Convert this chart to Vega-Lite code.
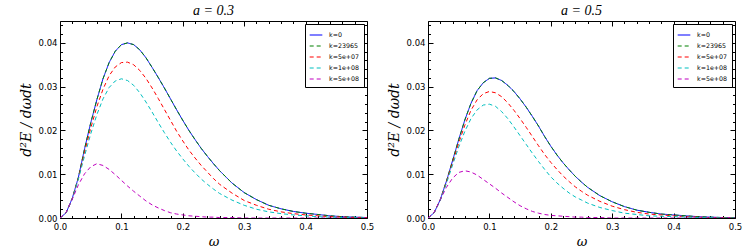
{
  "$schema": "https://vega.github.io/schema/vega-lite/v6.json",
  "autosize": {"type": "pad"},
  "padding": {"left": 18, "top": 3, "right": 15, "bottom": 2},
  "background": "white",
  "bounds": "flush",
  "spacing": 61,
  "config": {
    "view": {"stroke": "#000", "strokeWidth": 1},
    "axis": {"domain": false, "grid": false, "tickColor": "#000", "tickWidth": 1, "labelColor": "#000", "labelFont": "DejaVu Sans", "labelFontSize": 8.5, "titleFont": "DejaVu Serif", "titleFontStyle": "italic", "titleFontWeight": "normal", "titleColor": "#000", "labelFlush": false, "labelOverlap": false},
    "legend": {"orient": "top-right", "offset": 3, "symbolType": "stroke", "symbolSize": 160, "symbolStrokeWidth": 1.2, "labelFont": "DejaVu Sans", "labelFontSize": 6.3, "labelColor": "#000", "labelOffset": 6, "padding": 4, "rowPadding": -2, "strokeColor": "#000", "fillColor": "#fff", "cornerRadius": 0},
    "title": {"font": "Liberation Serif", "fontStyle": "italic", "fontWeight": "normal", "fontSize": 14, "offset": 3, "anchor": "middle", "color": "#000"}
  },
  "resolve": {"scale": {"color": "independent", "strokeDash": "independent"}, "legend": {"color": "independent", "strokeDash": "independent"}},
  "datasets": {
    "a03": [
      {"k":"k=0","w":0,"y":0},{"k":"k=0","w":0.01,"y":0.0012},{"k":"k=0","w":0.02,"y":0.0045},{"k":"k=0","w":0.03,"y":0.0093},{"k":"k=0","w":0.04,"y":0.0158},{"k":"k=0","w":0.05,"y":0.0217},{"k":"k=0","w":0.06,"y":0.027},{"k":"k=0","w":0.07,"y":0.0318},{"k":"k=0","w":0.08,"y":0.0355},{"k":"k=0","w":0.09,"y":0.0381},{"k":"k=0","w":0.1,"y":0.0396},{"k":"k=0","w":0.11,"y":0.04},{"k":"k=0","w":0.12,"y":0.0396},{"k":"k=0","w":0.13,"y":0.0384},{"k":"k=0","w":0.14,"y":0.0366},{"k":"k=0","w":0.15,"y":0.0344},{"k":"k=0","w":0.16,"y":0.0321},{"k":"k=0","w":0.17,"y":0.0297},{"k":"k=0","w":0.18,"y":0.0272},{"k":"k=0","w":0.19,"y":0.0247},{"k":"k=0","w":0.2,"y":0.0223},{"k":"k=0","w":0.21,"y":0.02},{"k":"k=0","w":0.22,"y":0.0179},{"k":"k=0","w":0.23,"y":0.0159},{"k":"k=0","w":0.24,"y":0.0141},{"k":"k=0","w":0.25,"y":0.0124},{"k":"k=0","w":0.26,"y":0.0108},{"k":"k=0","w":0.28,"y":0.008},{"k":"k=0","w":0.3,"y":0.0058},{"k":"k=0","w":0.32,"y":0.0042},{"k":"k=0","w":0.34,"y":0.0029},{"k":"k=0","w":0.36,"y":0.0021},{"k":"k=0","w":0.38,"y":0.0015},{"k":"k=0","w":0.4,"y":0.0011},{"k":"k=0","w":0.42,"y":0.0008},{"k":"k=0","w":0.44,"y":0.0005},{"k":"k=0","w":0.46,"y":0.0003},{"k":"k=0","w":0.48,"y":0.0002},{"k":"k=0","w":0.5,"y":0.0001},
      {"k":"k=23965","w":0,"y":0},{"k":"k=23965","w":0.01,"y":0.0012},{"k":"k=23965","w":0.02,"y":0.0045},{"k":"k=23965","w":0.03,"y":0.0093},{"k":"k=23965","w":0.04,"y":0.0158},{"k":"k=23965","w":0.05,"y":0.0217},{"k":"k=23965","w":0.06,"y":0.027},{"k":"k=23965","w":0.07,"y":0.0318},{"k":"k=23965","w":0.08,"y":0.0355},{"k":"k=23965","w":0.09,"y":0.0381},{"k":"k=23965","w":0.1,"y":0.0396},{"k":"k=23965","w":0.11,"y":0.04},{"k":"k=23965","w":0.12,"y":0.0396},{"k":"k=23965","w":0.13,"y":0.0384},{"k":"k=23965","w":0.14,"y":0.0366},{"k":"k=23965","w":0.15,"y":0.0344},{"k":"k=23965","w":0.16,"y":0.0321},{"k":"k=23965","w":0.17,"y":0.0297},{"k":"k=23965","w":0.18,"y":0.0272},{"k":"k=23965","w":0.19,"y":0.0247},{"k":"k=23965","w":0.2,"y":0.0223},{"k":"k=23965","w":0.21,"y":0.02},{"k":"k=23965","w":0.22,"y":0.0179},{"k":"k=23965","w":0.23,"y":0.0159},{"k":"k=23965","w":0.24,"y":0.0141},{"k":"k=23965","w":0.25,"y":0.0124},{"k":"k=23965","w":0.26,"y":0.0108},{"k":"k=23965","w":0.28,"y":0.008},{"k":"k=23965","w":0.3,"y":0.0058},{"k":"k=23965","w":0.32,"y":0.0042},{"k":"k=23965","w":0.34,"y":0.0029},{"k":"k=23965","w":0.36,"y":0.0021},{"k":"k=23965","w":0.38,"y":0.0015},{"k":"k=23965","w":0.4,"y":0.0011},{"k":"k=23965","w":0.42,"y":0.0008},{"k":"k=23965","w":0.44,"y":0.0005},{"k":"k=23965","w":0.46,"y":0.0003},{"k":"k=23965","w":0.48,"y":0.0002},{"k":"k=23965","w":0.5,"y":0.0001},
      {"k":"k=5e+07","w":0,"y":0},{"k":"k=5e+07","w":0.01,"y":0.0012},{"k":"k=5e+07","w":0.02,"y":0.0044},{"k":"k=5e+07","w":0.03,"y":0.0091},{"k":"k=5e+07","w":0.04,"y":0.015},{"k":"k=5e+07","w":0.05,"y":0.0205},{"k":"k=5e+07","w":0.06,"y":0.0254},{"k":"k=5e+07","w":0.07,"y":0.0294},{"k":"k=5e+07","w":0.08,"y":0.0325},{"k":"k=5e+07","w":0.09,"y":0.0345},{"k":"k=5e+07","w":0.1,"y":0.0355},{"k":"k=5e+07","w":0.11,"y":0.0356},{"k":"k=5e+07","w":0.12,"y":0.035},{"k":"k=5e+07","w":0.13,"y":0.0337},{"k":"k=5e+07","w":0.14,"y":0.0319},{"k":"k=5e+07","w":0.15,"y":0.0297},{"k":"k=5e+07","w":0.16,"y":0.0273},{"k":"k=5e+07","w":0.17,"y":0.0248},{"k":"k=5e+07","w":0.18,"y":0.0223},{"k":"k=5e+07","w":0.19,"y":0.0198},{"k":"k=5e+07","w":0.2,"y":0.0176},{"k":"k=5e+07","w":0.21,"y":0.0155},{"k":"k=5e+07","w":0.22,"y":0.0137},{"k":"k=5e+07","w":0.23,"y":0.012},{"k":"k=5e+07","w":0.24,"y":0.0105},{"k":"k=5e+07","w":0.25,"y":0.009},{"k":"k=5e+07","w":0.26,"y":0.0077},{"k":"k=5e+07","w":0.28,"y":0.0057},{"k":"k=5e+07","w":0.3,"y":0.004},{"k":"k=5e+07","w":0.32,"y":0.0029},{"k":"k=5e+07","w":0.34,"y":0.002},{"k":"k=5e+07","w":0.36,"y":0.0014},{"k":"k=5e+07","w":0.38,"y":0.001},{"k":"k=5e+07","w":0.4,"y":0.0007},{"k":"k=5e+07","w":0.42,"y":0.0005},{"k":"k=5e+07","w":0.44,"y":0.0003},{"k":"k=5e+07","w":0.46,"y":0.0002},{"k":"k=5e+07","w":0.48,"y":0.0001},{"k":"k=5e+07","w":0.5,"y":0.0001},
      {"k":"k=1e+08","w":0,"y":0},{"k":"k=1e+08","w":0.01,"y":0.0012},{"k":"k=1e+08","w":0.02,"y":0.0043},{"k":"k=1e+08","w":0.03,"y":0.0089},{"k":"k=1e+08","w":0.04,"y":0.0142},{"k":"k=1e+08","w":0.05,"y":0.0192},{"k":"k=1e+08","w":0.06,"y":0.0236},{"k":"k=1e+08","w":0.07,"y":0.0272},{"k":"k=1e+08","w":0.08,"y":0.0298},{"k":"k=1e+08","w":0.09,"y":0.0313},{"k":"k=1e+08","w":0.1,"y":0.0318},{"k":"k=1e+08","w":0.11,"y":0.0314},{"k":"k=1e+08","w":0.12,"y":0.0303},{"k":"k=1e+08","w":0.13,"y":0.0286},{"k":"k=1e+08","w":0.14,"y":0.0265},{"k":"k=1e+08","w":0.15,"y":0.0242},{"k":"k=1e+08","w":0.16,"y":0.0218},{"k":"k=1e+08","w":0.17,"y":0.0195},{"k":"k=1e+08","w":0.18,"y":0.0173},{"k":"k=1e+08","w":0.19,"y":0.0153},{"k":"k=1e+08","w":0.2,"y":0.0135},{"k":"k=1e+08","w":0.21,"y":0.0118},{"k":"k=1e+08","w":0.22,"y":0.0103},{"k":"k=1e+08","w":0.23,"y":0.0089},{"k":"k=1e+08","w":0.24,"y":0.0077},{"k":"k=1e+08","w":0.25,"y":0.0066},{"k":"k=1e+08","w":0.26,"y":0.0056},{"k":"k=1e+08","w":0.28,"y":0.0041},{"k":"k=1e+08","w":0.3,"y":0.0029},{"k":"k=1e+08","w":0.32,"y":0.002},{"k":"k=1e+08","w":0.34,"y":0.0014},{"k":"k=1e+08","w":0.36,"y":0.001},{"k":"k=1e+08","w":0.38,"y":0.0007},{"k":"k=1e+08","w":0.4,"y":0.0005},{"k":"k=1e+08","w":0.42,"y":0.0003},{"k":"k=1e+08","w":0.44,"y":0.0002},{"k":"k=1e+08","w":0.46,"y":0.0001},{"k":"k=1e+08","w":0.48,"y":0.0001},{"k":"k=1e+08","w":0.5,"y":0},
      {"k":"k=5e+08","w":0,"y":0},{"k":"k=5e+08","w":0.01,"y":0.0013},{"k":"k=5e+08","w":0.02,"y":0.0043},{"k":"k=5e+08","w":0.03,"y":0.0076},{"k":"k=5e+08","w":0.04,"y":0.0101},{"k":"k=5e+08","w":0.05,"y":0.0117},{"k":"k=5e+08","w":0.06,"y":0.0124},{"k":"k=5e+08","w":0.07,"y":0.012},{"k":"k=5e+08","w":0.08,"y":0.0111},{"k":"k=5e+08","w":0.09,"y":0.0099},{"k":"k=5e+08","w":0.1,"y":0.0086},{"k":"k=5e+08","w":0.11,"y":0.0073},{"k":"k=5e+08","w":0.12,"y":0.0061},{"k":"k=5e+08","w":0.13,"y":0.005},{"k":"k=5e+08","w":0.14,"y":0.0039},{"k":"k=5e+08","w":0.15,"y":0.003},{"k":"k=5e+08","w":0.16,"y":0.0023},{"k":"k=5e+08","w":0.17,"y":0.0017},{"k":"k=5e+08","w":0.18,"y":0.0012},{"k":"k=5e+08","w":0.19,"y":0.0009},{"k":"k=5e+08","w":0.2,"y":0.0007},{"k":"k=5e+08","w":0.21,"y":0.0005},{"k":"k=5e+08","w":0.22,"y":0.0004},{"k":"k=5e+08","w":0.23,"y":0.0003},{"k":"k=5e+08","w":0.24,"y":0.0002},{"k":"k=5e+08","w":0.25,"y":0.0002},{"k":"k=5e+08","w":0.26,"y":0.0001},{"k":"k=5e+08","w":0.28,"y":0.0001},{"k":"k=5e+08","w":0.3,"y":0},{"k":"k=5e+08","w":0.32,"y":0},{"k":"k=5e+08","w":0.34,"y":0},{"k":"k=5e+08","w":0.36,"y":0},{"k":"k=5e+08","w":0.38,"y":0},{"k":"k=5e+08","w":0.4,"y":0},{"k":"k=5e+08","w":0.42,"y":0},{"k":"k=5e+08","w":0.44,"y":0},{"k":"k=5e+08","w":0.46,"y":0},{"k":"k=5e+08","w":0.48,"y":0},{"k":"k=5e+08","w":0.5,"y":0}
    ],
    "a05": [
      {"k":"k=0","w":0,"y":0},{"k":"k=0","w":0.01,"y":0.0012},{"k":"k=0","w":0.02,"y":0.0042},{"k":"k=0","w":0.03,"y":0.0084},{"k":"k=0","w":0.04,"y":0.0131},{"k":"k=0","w":0.05,"y":0.0179},{"k":"k=0","w":0.06,"y":0.0224},{"k":"k=0","w":0.07,"y":0.0262},{"k":"k=0","w":0.08,"y":0.0291},{"k":"k=0","w":0.09,"y":0.0309},{"k":"k=0","w":0.1,"y":0.0319},{"k":"k=0","w":0.11,"y":0.032},{"k":"k=0","w":0.12,"y":0.0314},{"k":"k=0","w":0.13,"y":0.0303},{"k":"k=0","w":0.14,"y":0.0289},{"k":"k=0","w":0.15,"y":0.0272},{"k":"k=0","w":0.16,"y":0.0253},{"k":"k=0","w":0.17,"y":0.0232},{"k":"k=0","w":0.18,"y":0.021},{"k":"k=0","w":0.19,"y":0.0186},{"k":"k=0","w":0.2,"y":0.0164},{"k":"k=0","w":0.21,"y":0.0144},{"k":"k=0","w":0.22,"y":0.0126},{"k":"k=0","w":0.23,"y":0.011},{"k":"k=0","w":0.24,"y":0.0095},{"k":"k=0","w":0.25,"y":0.0082},{"k":"k=0","w":0.26,"y":0.007},{"k":"k=0","w":0.28,"y":0.0051},{"k":"k=0","w":0.3,"y":0.0037},{"k":"k=0","w":0.32,"y":0.0026},{"k":"k=0","w":0.34,"y":0.0018},{"k":"k=0","w":0.36,"y":0.0013},{"k":"k=0","w":0.38,"y":0.0009},{"k":"k=0","w":0.4,"y":0.0007},{"k":"k=0","w":0.42,"y":0.0005},{"k":"k=0","w":0.44,"y":0.0003},{"k":"k=0","w":0.46,"y":0.0002},{"k":"k=0","w":0.48,"y":0.0001},{"k":"k=0","w":0.5,"y":0.0001},
      {"k":"k=23965","w":0,"y":0},{"k":"k=23965","w":0.01,"y":0.0012},{"k":"k=23965","w":0.02,"y":0.0042},{"k":"k=23965","w":0.03,"y":0.0084},{"k":"k=23965","w":0.04,"y":0.0131},{"k":"k=23965","w":0.05,"y":0.0179},{"k":"k=23965","w":0.06,"y":0.0224},{"k":"k=23965","w":0.07,"y":0.0262},{"k":"k=23965","w":0.08,"y":0.0291},{"k":"k=23965","w":0.09,"y":0.0309},{"k":"k=23965","w":0.1,"y":0.0319},{"k":"k=23965","w":0.11,"y":0.032},{"k":"k=23965","w":0.12,"y":0.0314},{"k":"k=23965","w":0.13,"y":0.0303},{"k":"k=23965","w":0.14,"y":0.0289},{"k":"k=23965","w":0.15,"y":0.0272},{"k":"k=23965","w":0.16,"y":0.0253},{"k":"k=23965","w":0.17,"y":0.0232},{"k":"k=23965","w":0.18,"y":0.021},{"k":"k=23965","w":0.19,"y":0.0186},{"k":"k=23965","w":0.2,"y":0.0164},{"k":"k=23965","w":0.21,"y":0.0144},{"k":"k=23965","w":0.22,"y":0.0126},{"k":"k=23965","w":0.23,"y":0.011},{"k":"k=23965","w":0.24,"y":0.0095},{"k":"k=23965","w":0.25,"y":0.0082},{"k":"k=23965","w":0.26,"y":0.007},{"k":"k=23965","w":0.28,"y":0.0051},{"k":"k=23965","w":0.3,"y":0.0037},{"k":"k=23965","w":0.32,"y":0.0026},{"k":"k=23965","w":0.34,"y":0.0018},{"k":"k=23965","w":0.36,"y":0.0013},{"k":"k=23965","w":0.38,"y":0.0009},{"k":"k=23965","w":0.4,"y":0.0007},{"k":"k=23965","w":0.42,"y":0.0005},{"k":"k=23965","w":0.44,"y":0.0003},{"k":"k=23965","w":0.46,"y":0.0002},{"k":"k=23965","w":0.48,"y":0.0001},{"k":"k=23965","w":0.5,"y":0.0001},
      {"k":"k=5e+07","w":0,"y":0},{"k":"k=5e+07","w":0.01,"y":0.0012},{"k":"k=5e+07","w":0.02,"y":0.0041},{"k":"k=5e+07","w":0.03,"y":0.0082},{"k":"k=5e+07","w":0.04,"y":0.0126},{"k":"k=5e+07","w":0.05,"y":0.0171},{"k":"k=5e+07","w":0.06,"y":0.0212},{"k":"k=5e+07","w":0.07,"y":0.0246},{"k":"k=5e+07","w":0.08,"y":0.027},{"k":"k=5e+07","w":0.09,"y":0.0284},{"k":"k=5e+07","w":0.1,"y":0.0289},{"k":"k=5e+07","w":0.11,"y":0.0286},{"k":"k=5e+07","w":0.12,"y":0.0277},{"k":"k=5e+07","w":0.13,"y":0.0263},{"k":"k=5e+07","w":0.14,"y":0.0246},{"k":"k=5e+07","w":0.15,"y":0.0227},{"k":"k=5e+07","w":0.16,"y":0.0207},{"k":"k=5e+07","w":0.17,"y":0.0186},{"k":"k=5e+07","w":0.18,"y":0.0165},{"k":"k=5e+07","w":0.19,"y":0.0145},{"k":"k=5e+07","w":0.2,"y":0.0127},{"k":"k=5e+07","w":0.21,"y":0.0111},{"k":"k=5e+07","w":0.22,"y":0.0096},{"k":"k=5e+07","w":0.23,"y":0.0083},{"k":"k=5e+07","w":0.24,"y":0.0071},{"k":"k=5e+07","w":0.25,"y":0.0061},{"k":"k=5e+07","w":0.26,"y":0.0052},{"k":"k=5e+07","w":0.28,"y":0.0038},{"k":"k=5e+07","w":0.3,"y":0.0027},{"k":"k=5e+07","w":0.32,"y":0.0019},{"k":"k=5e+07","w":0.34,"y":0.0013},{"k":"k=5e+07","w":0.36,"y":0.0009},{"k":"k=5e+07","w":0.38,"y":0.0007},{"k":"k=5e+07","w":0.4,"y":0.0005},{"k":"k=5e+07","w":0.42,"y":0.0003},{"k":"k=5e+07","w":0.44,"y":0.0002},{"k":"k=5e+07","w":0.46,"y":0.0001},{"k":"k=5e+07","w":0.48,"y":0.0001},{"k":"k=5e+07","w":0.5,"y":0},
      {"k":"k=1e+08","w":0,"y":0},{"k":"k=1e+08","w":0.01,"y":0.0012},{"k":"k=1e+08","w":0.02,"y":0.004},{"k":"k=1e+08","w":0.03,"y":0.0079},{"k":"k=1e+08","w":0.04,"y":0.0121},{"k":"k=1e+08","w":0.05,"y":0.0162},{"k":"k=1e+08","w":0.06,"y":0.0198},{"k":"k=1e+08","w":0.07,"y":0.0227},{"k":"k=1e+08","w":0.08,"y":0.0247},{"k":"k=1e+08","w":0.09,"y":0.0258},{"k":"k=1e+08","w":0.1,"y":0.026},{"k":"k=1e+08","w":0.11,"y":0.0255},{"k":"k=1e+08","w":0.12,"y":0.0243},{"k":"k=1e+08","w":0.13,"y":0.0227},{"k":"k=1e+08","w":0.14,"y":0.0208},{"k":"k=1e+08","w":0.15,"y":0.0188},{"k":"k=1e+08","w":0.16,"y":0.0168},{"k":"k=1e+08","w":0.17,"y":0.0148},{"k":"k=1e+08","w":0.18,"y":0.0129},{"k":"k=1e+08","w":0.19,"y":0.0111},{"k":"k=1e+08","w":0.2,"y":0.0094},{"k":"k=1e+08","w":0.21,"y":0.008},{"k":"k=1e+08","w":0.22,"y":0.0068},{"k":"k=1e+08","w":0.23,"y":0.0057},{"k":"k=1e+08","w":0.24,"y":0.0048},{"k":"k=1e+08","w":0.25,"y":0.0041},{"k":"k=1e+08","w":0.26,"y":0.0034},{"k":"k=1e+08","w":0.28,"y":0.0024},{"k":"k=1e+08","w":0.3,"y":0.0017},{"k":"k=1e+08","w":0.32,"y":0.0011},{"k":"k=1e+08","w":0.34,"y":0.0008},{"k":"k=1e+08","w":0.36,"y":0.0005},{"k":"k=1e+08","w":0.38,"y":0.0004},{"k":"k=1e+08","w":0.4,"y":0.0003},{"k":"k=1e+08","w":0.42,"y":0.0002},{"k":"k=1e+08","w":0.44,"y":0.0001},{"k":"k=1e+08","w":0.46,"y":0.0001},{"k":"k=1e+08","w":0.48,"y":0},{"k":"k=1e+08","w":0.5,"y":0},
      {"k":"k=5e+08","w":0,"y":0},{"k":"k=5e+08","w":0.01,"y":0.0013},{"k":"k=5e+08","w":0.02,"y":0.0042},{"k":"k=5e+08","w":0.03,"y":0.007},{"k":"k=5e+08","w":0.04,"y":0.0091},{"k":"k=5e+08","w":0.05,"y":0.0104},{"k":"k=5e+08","w":0.06,"y":0.0108},{"k":"k=5e+08","w":0.07,"y":0.0105},{"k":"k=5e+08","w":0.08,"y":0.0098},{"k":"k=5e+08","w":0.09,"y":0.0088},{"k":"k=5e+08","w":0.1,"y":0.0078},{"k":"k=5e+08","w":0.11,"y":0.0068},{"k":"k=5e+08","w":0.12,"y":0.0057},{"k":"k=5e+08","w":0.13,"y":0.0047},{"k":"k=5e+08","w":0.14,"y":0.0037},{"k":"k=5e+08","w":0.15,"y":0.0028},{"k":"k=5e+08","w":0.16,"y":0.0021},{"k":"k=5e+08","w":0.17,"y":0.0015},{"k":"k=5e+08","w":0.18,"y":0.0011},{"k":"k=5e+08","w":0.19,"y":0.0008},{"k":"k=5e+08","w":0.2,"y":0.0006},{"k":"k=5e+08","w":0.21,"y":0.0005},{"k":"k=5e+08","w":0.22,"y":0.0004},{"k":"k=5e+08","w":0.23,"y":0.0003},{"k":"k=5e+08","w":0.24,"y":0.0002},{"k":"k=5e+08","w":0.25,"y":0.0002},{"k":"k=5e+08","w":0.26,"y":0.0001},{"k":"k=5e+08","w":0.28,"y":0.0001},{"k":"k=5e+08","w":0.3,"y":0},{"k":"k=5e+08","w":0.32,"y":0},{"k":"k=5e+08","w":0.34,"y":0},{"k":"k=5e+08","w":0.36,"y":0},{"k":"k=5e+08","w":0.38,"y":0},{"k":"k=5e+08","w":0.4,"y":0},{"k":"k=5e+08","w":0.42,"y":0},{"k":"k=5e+08","w":0.44,"y":0},{"k":"k=5e+08","w":0.46,"y":0},{"k":"k=5e+08","w":0.48,"y":0},{"k":"k=5e+08","w":0.5,"y":0}
    ]
  },
  "hconcat": [
    {
      "width": 307, "height": 197,
      "title": {"text": "a = 0.3"},
      "data": {"name": "a03"},
      "resolve": {"axis": {"x": "independent", "y": "independent"}},
      "layer": [
        {
          "mark": {"type": "line", "strokeWidth": 1, "clip": true},
          "encoding": {
            "x": {"field": "w", "type": "quantitative", "scale": {"domain": [0, 0.5], "nice": false, "zero": false}, "axis": {"orient": "bottom", "title": "ω", "values": [0, 0.1, 0.2, 0.3, 0.4, 0.5], "format": ".1f", "tickSize": -5, "labelPadding": 9, "titlePadding": 5, "titleFontSize": 13}},
            "y": {"field": "y", "type": "quantitative", "scale": {"domain": [0, 0.045], "nice": false}, "axis": {"orient": "left", "title": "d²E / dωdt", "values": [0, 0.01, 0.02, 0.03, 0.04], "format": ".2f", "tickSize": -5, "labelPadding": 8, "titlePadding": 5, "titleFontSize": 14}},
            "color": {"field": "k", "type": "nominal", "scale": {"domain": ["k=0", "k=23965", "k=5e+07", "k=1e+08", "k=5e+08"], "range": ["#0000ff", "#008000", "#ff0000", "#00bfbf", "#bf00bf"]}, "legend": {"title": null}},
            "strokeDash": {"field": "k", "type": "nominal", "scale": {"domain": ["k=0", "k=23965", "k=5e+07", "k=1e+08", "k=5e+08"], "range": [[1, 0], [4, 3], [4, 3], [4, 3], [4, 3]]}, "legend": {"title": null}}
          }
        },
        {
          "mark": {"type": "line", "opacity": 0},
          "encoding": {
            "x": {"field": "w", "type": "quantitative", "axis": {"orient": "bottom", "title": null, "labels": false, "values": [0.02,0.04,0.06,0.08,0.12,0.14,0.16,0.18,0.22,0.24,0.26,0.28,0.32,0.34,0.36,0.38,0.42,0.44,0.46,0.48], "tickSize": -2.5}},
            "y": {"field": "y", "type": "quantitative", "axis": {"orient": "left", "title": null, "labels": false, "values": [0.002,0.004,0.006,0.008,0.012,0.014,0.016,0.018,0.022,0.024,0.026,0.028,0.032,0.034,0.036,0.038,0.042,0.044], "tickSize": -2.5}}
          }
        },
        {
          "mark": {"type": "line", "opacity": 0},
          "encoding": {
            "x": {"field": "w", "type": "quantitative", "axis": {"orient": "top", "title": null, "labels": false, "values": [0, 0.1, 0.2, 0.3, 0.4, 0.5], "tickSize": -5}},
            "y": {"field": "y", "type": "quantitative", "axis": {"orient": "right", "title": null, "labels": false, "values": [0, 0.01, 0.02, 0.03, 0.04], "tickSize": -5}}
          }
        },
        {
          "mark": {"type": "line", "opacity": 0},
          "encoding": {
            "x": {"field": "w", "type": "quantitative", "axis": {"orient": "top", "title": null, "labels": false, "values": [0.02,0.04,0.06,0.08,0.12,0.14,0.16,0.18,0.22,0.24,0.26,0.28,0.32,0.34,0.36,0.38,0.42,0.44,0.46,0.48], "tickSize": -2.5}},
            "y": {"field": "y", "type": "quantitative", "axis": {"orient": "right", "title": null, "labels": false, "values": [0.002,0.004,0.006,0.008,0.012,0.014,0.016,0.018,0.022,0.024,0.026,0.028,0.032,0.034,0.036,0.038,0.042,0.044], "tickSize": -2.5}}
          }
        }
      ]
    },
    {
      "width": 307, "height": 197,
      "title": {"text": "a = 0.5"},
      "data": {"name": "a05"},
      "resolve": {"axis": {"x": "independent", "y": "independent"}},
      "layer": [
        {
          "mark": {"type": "line", "strokeWidth": 1, "clip": true},
          "encoding": {
            "x": {"field": "w", "type": "quantitative", "scale": {"domain": [0, 0.5], "nice": false, "zero": false}, "axis": {"orient": "bottom", "title": "ω", "values": [0, 0.1, 0.2, 0.3, 0.4, 0.5], "format": ".1f", "tickSize": -5, "labelPadding": 9, "titlePadding": 5, "titleFontSize": 13}},
            "y": {"field": "y", "type": "quantitative", "scale": {"domain": [0, 0.045], "nice": false}, "axis": {"orient": "left", "title": "d²E / dωdt", "values": [0, 0.01, 0.02, 0.03, 0.04], "format": ".2f", "tickSize": -5, "labelPadding": 8, "titlePadding": 5, "titleFontSize": 14}},
            "color": {"field": "k", "type": "nominal", "scale": {"domain": ["k=0", "k=23965", "k=5e+07", "k=1e+08", "k=5e+08"], "range": ["#0000ff", "#008000", "#ff0000", "#00bfbf", "#bf00bf"]}, "legend": {"title": null}},
            "strokeDash": {"field": "k", "type": "nominal", "scale": {"domain": ["k=0", "k=23965", "k=5e+07", "k=1e+08", "k=5e+08"], "range": [[1, 0], [4, 3], [4, 3], [4, 3], [4, 3]]}, "legend": {"title": null}}
          }
        },
        {
          "mark": {"type": "line", "opacity": 0},
          "encoding": {
            "x": {"field": "w", "type": "quantitative", "axis": {"orient": "bottom", "title": null, "labels": false, "values": [0.02,0.04,0.06,0.08,0.12,0.14,0.16,0.18,0.22,0.24,0.26,0.28,0.32,0.34,0.36,0.38,0.42,0.44,0.46,0.48], "tickSize": -2.5}},
            "y": {"field": "y", "type": "quantitative", "axis": {"orient": "left", "title": null, "labels": false, "values": [0.002,0.004,0.006,0.008,0.012,0.014,0.016,0.018,0.022,0.024,0.026,0.028,0.032,0.034,0.036,0.038,0.042,0.044], "tickSize": -2.5}}
          }
        },
        {
          "mark": {"type": "line", "opacity": 0},
          "encoding": {
            "x": {"field": "w", "type": "quantitative", "axis": {"orient": "top", "title": null, "labels": false, "values": [0, 0.1, 0.2, 0.3, 0.4, 0.5], "tickSize": -5}},
            "y": {"field": "y", "type": "quantitative", "axis": {"orient": "right", "title": null, "labels": false, "values": [0, 0.01, 0.02, 0.03, 0.04], "tickSize": -5}}
          }
        },
        {
          "mark": {"type": "line", "opacity": 0},
          "encoding": {
            "x": {"field": "w", "type": "quantitative", "axis": {"orient": "top", "title": null, "labels": false, "values": [0.02,0.04,0.06,0.08,0.12,0.14,0.16,0.18,0.22,0.24,0.26,0.28,0.32,0.34,0.36,0.38,0.42,0.44,0.46,0.48], "tickSize": -2.5}},
            "y": {"field": "y", "type": "quantitative", "axis": {"orient": "right", "title": null, "labels": false, "values": [0.002,0.004,0.006,0.008,0.012,0.014,0.016,0.018,0.022,0.024,0.026,0.028,0.032,0.034,0.036,0.038,0.042,0.044], "tickSize": -2.5}}
          }
        }
      ]
    }
  ]
}
